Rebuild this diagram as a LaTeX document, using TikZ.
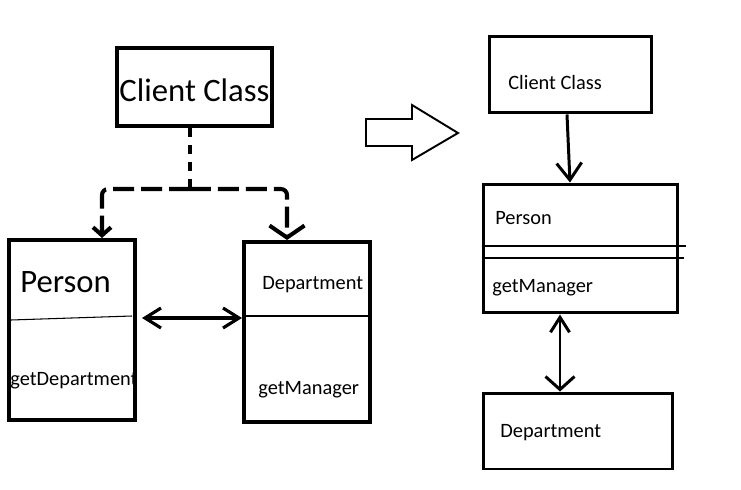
\documentclass[tikz,border=0pt]{standalone}
\usepackage{fontspec}
\setmainfont{Carlito}
\usetikzlibrary{positioning, arrows.meta, calc}

\tikzset{
  thickbox/.style={rectangle, draw=black, line width=2.3pt, inner sep=0pt},
  thinbox/.style={rectangle, draw=black, line width=1.7pt, inner sep=0pt},
  bigtext/.style={font=\fontsize{18.6}{22}\selectfont, inner sep=0pt},
  smalltext/.style={font=\fontsize{11.6}{14}\selectfont, inner sep=0pt, anchor=west},
}

\begin{document}
\begin{tikzpicture}[x=0.02cm, y=-0.02cm]
  \useasboundingbox (0,0) rectangle (741,490);

  % before
  \node[thickbox, minimum width=3.1cm, minimum height=1.56cm] (lclient) at (194.5, 87) {};
  \node[thickbox, minimum width=2.52cm, minimum height=3.6cm] (lperson) at (72, 330) {};
  \node[thickbox, minimum width=2.52cm, minimum height=3.6cm] (ldept) at (307, 332) {};

  \node[bigtext] (lclient-name) at (194.5, 90) {Client Class};
  \node[bigtext, anchor=west] (lperson-name) at (20, 282) {Person};
  \node[smalltext] (lperson-op) at (10, 381) {getDepartment};
  \node[smalltext] (ldept-name) at (262, 285) {Department};
  \node[smalltext] (ldept-op) at (258, 390) {getManager};

  \draw[line width=0.6pt] ($(lperson.west)+(4,-10)$) -- ($(lperson.east)+(-5,-14)$);
  \draw[line width=0.6pt] ($(ldept.west)+(3,-16)$) -- ($(ldept.east)+(-3,-16)$);

  \coordinate (split) at ($(lclient.south)+(-4.5,61)$);
  \draw[line width=2.3pt, dash pattern=on 0.18cm off 0.16cm] ($(lclient.south)+(-4.5,0)$) -- (split);
  \draw[line width=2.3pt, dash pattern=on 0.42cm off 0.14cm, rounded corners=0.12cm,
        -{Straight Barb[length=0.16cm, width=0.36cm]}] (split) -| ($(lperson.north)+(30,0)$);
  \draw[line width=2.3pt, dash pattern=on 0.42cm off 0.14cm, rounded corners=0.12cm,
        -{Straight Barb[length=0.24cm, width=0.7cm]}] (split) -| ($(ldept.north)+(-20,0)$);

  \draw[line width=1.8pt, {Straight Barb[length=0.32cm, width=0.4cm]}-{Straight Barb[length=0.32cm, width=0.4cm]}]
        ($(lperson.east)+(5,-12)$) -- ($(ldept.west)+(0,-14)$);

  % hollow arrow
  \draw[line width=1.1pt] (366,119) -- (412,119) -- (412,105) -- (458,133) -- (412,160) -- (412,146) -- (366,146) -- cycle;

  % after
  \node[thinbox, minimum width=3.26cm, minimum height=1.54cm] (rclient) at (570.5, 74.5) {};
  \node[thinbox, minimum width=3.9cm, minimum height=2.58cm] (rperson) at (580.5, 248.5) {};
  \node[thinbox, minimum width=3.8cm, minimum height=1.52cm] (rdept) at (578, 431) {};

  \node[smalltext] (rclient-name) at (508, 82) {Client Class};
  \node[smalltext] (rperson-name) at (495, 218) {Person};
  \node[smalltext] (rperson-op) at (492, 288) {getManager};
  \node[smalltext] (rdept-name) at (500, 433) {Department};

  \draw[line width=1.1pt] ($(rperson.west)+(0,-2.5)$) -- ($(rperson.east)+(7,-2.5)$);
  \draw[line width=1.1pt] ($(rperson.west)+(0,9.5)$) -- ($(rperson.east)+(5,9.5)$);

  \draw[line width=1.7pt, -{Straight Barb[length=0.34cm, width=0.5cm]}]
        ($(rclient.south)+(-3.5,0)$) -- ($(rperson.north)+(-10.5,0)$);
  \draw[line width=1.7pt, {Straight Barb[length=0.3cm, width=0.38cm]}-{Straight Barb[length=0.26cm, width=0.58cm]}]
        ($(rperson.south)+(-20.5,0)$) -- ($(rdept.north)+(-18,0)$);
\end{tikzpicture}
\end{document}
